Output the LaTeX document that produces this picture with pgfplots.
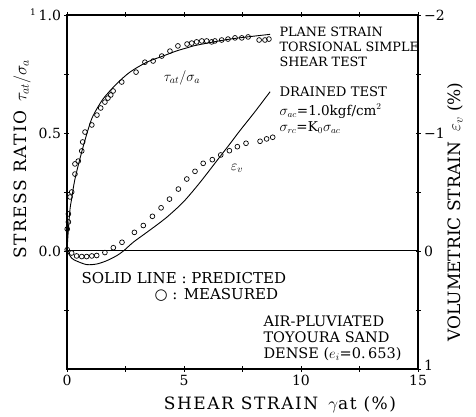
\documentclass[border=0pt]{standalone}
\usepackage{fontspec}
\setmainfont{DejaVu Serif}
\newfontfamily\symfont{DejaVu Sans}
\newfontfamily\lsfont[LetterSpace=9]{DejaVu Serif}
\usepackage{pgfplots}
\pgfplotsset{compat=1.18}
\begin{document}
\begin{tikzpicture}[x=1pt,y=1pt]
\path[use as bounding box] (-67,-48) rectangle (409,369);
\begin{axis}[at={(0,0)}, anchor=south west, width=351pt, height=354pt, scale only axis,
  xmin=0, xmax=15, ymin=-0.5, ymax=1.0,
  axis line style={line width=1.1pt},
  xtick={0,5,10,15}, xticklabels={0,5,10,15},
  minor xtick={2.5,7.5,12.5},
  ytick={0,0.5,1}, yticklabels={0.0,0.5,1.0},
  minor ytick={-0.25,0.25,0.75},
  xtick pos=both, xticklabel pos=lower, ytick pos=left,
  tick align=center, major tick length=5pt, minor tick length=5pt,
  tick style={black, line width=0.8pt},
  ticklabel style={font=\fontsize{14}{14}\selectfont},
  clip=false]
\addplot[black, line width=1pt] coordinates {(0,0) (15,0)};
\addplot[black, line width=0.9pt, smooth, tension=0.5] coordinates {
(0,0) (0.06,0.093) (0.13,0.178) (0.2,0.222) (0.34,0.305) (0.63,0.42) (0.91,0.517) (1.11,0.572) (1.54,0.644) (2.12,0.708) (2.69,0.758) (3.41,0.80) (4.10,0.826) (4.69,0.848) (5.17,0.862) (5.54,0.872) (6.97,0.898) (8.68,0.918)};
\addplot[only marks, mark=o, mark size=2.4pt, mark options={line width=0.7pt, black}] coordinates {
(0.01,0.093) (0.06,0.123) (0.06,0.157) (0.13,0.229) (0.20,0.25) (0.34,0.326) (0.34,0.369) (0.48,0.381) (0.63,0.424) (0.67,0.462) (0.77,0.504) (1.06,0.534) (1.28,0.576) (1.44,0.606) (1.62,0.631) (1.75,0.648) (1.87,0.661) (1.97,0.678) (2.34,0.716) (2.95,0.758) (3.33,0.80) (3.68,0.805) (4.05,0.826) (4.40,0.847) (4.74,0.869) (5.13,0.877) (5.33,0.881) (5.54,0.886) (5.76,0.89) (5.97,0.89) (6.18,0.886) (6.32,0.89) (6.61,0.894) (6.88,0.898) (7.18,0.903) (7.47,0.903) (7.74,0.907) (8.21,0.894) (8.46,0.894) (8.63,0.898)};
\end{axis}
\begin{axis}[at={(0,0)}, anchor=south west, width=351pt, height=354pt, scale only axis,
  xmin=0, xmax=15, ymin=-2, ymax=1, y dir=reverse,
  axis x line=none, axis y line*=right,
  axis line style={line width=1.1pt},
  ytick={-2,-1,0,1}, yticklabels={−2,−1,0,\raisebox{8pt}{1}},
  minor ytick={-1.5,-0.5,0.5},
  tick align=center, major tick length=5pt, minor tick length=5pt,
  tick style={black, line width=0.8pt},
  ticklabel style={font=\fontsize{14}{14}\selectfont},
  clip=false]
\addplot[black, line width=0.9pt, smooth, tension=0.5] coordinates {
(0,0) (0.2,0.06) (0.41,0.085) (0.84,0.115) (1.27,0.11) (1.70,0.082) (2.12,0.04) (2.41,0.0) (2.83,-0.074) (3.41,-0.158) (3.97,-0.24) (4.26,-0.285) (4.97,-0.415) (5.68,-0.58) (6.54,-0.80) (6.97,-0.91) (7.39,-1.02) (8.03,-1.18) (8.68,-1.35)};
\addplot[only marks, mark=o, mark size=2.4pt, mark options={line width=0.7pt, black}] coordinates {
(0.01,-0.011) (0.20,0.017) (0.41,0.042) (0.63,0.047) (0.84,0.047) (1.06,0.042) (1.27,0.038) (1.62,0.013) (1.98,-0.028) (2.35,-0.074) (2.88,-0.158) (3.26,-0.216) (3.65,-0.294) (4.02,-0.366) (4.38,-0.44) (4.76,-0.525) (5.12,-0.61) (5.47,-0.675) (5.82,-0.743) (6.21,-0.774) (6.57,-0.814) (6.94,-0.85) (7.28,-0.884) (7.65,-0.913) (8.25,-0.93) (8.53,-0.95) (8.79,-0.964)};
\end{axis}
% axis labels
\node[rotate=90, font=\lsfont\fontsize{17}{17}\selectfont] at (-45,210) {STRESS RATIO\hspace{0.5em}$\tau_{at}/\sigma_a$};
\node[rotate=90, font=\fontsize{17}{17}\selectfont] at (388,157) {VOLUMETRIC STRAIN\hspace{0.6em}$\varepsilon_v$ (\%)};
\node[font=\lsfont\fontsize{17}{17}\selectfont] at (213,-36) {SHEAR STRAIN\hspace{0.6em}$\gamma$at (\%)};
\node[font=\fontsize{9}{9}\selectfont] at (-34,357) {1};
% annotations
\node[anchor=west, align=left, font=\fontsize{12.8}{15}\selectfont] at (209,322) {PLANE STRAIN\\TORSIONAL SIMPLE\\SHEAR TEST};
\node[anchor=west, font=\fontsize{13.2}{15}\selectfont] at (209,277) {DRAINED TEST};
\node[anchor=west, font=\fontsize{13.5}{15}\selectfont] at (209,258) {$\sigma_{ac}$=1.0kgf/cm$^2$};
\node[anchor=west, font=\fontsize{13.5}{15}\selectfont] at (209,241) {$\sigma_{rc}$=K$_0\sigma_{ac}$};
\node[font=\fontsize{14}{14}\selectfont] at (115,291) {$\tau_{at}/\sigma_a$};
\node[font=\fontsize{14}{14}\selectfont] at (170,201) {$\varepsilon_v$};
\node[anchor=west, font=\fontsize{15}{16}\selectfont] at (11,91) {SOLID LINE : PREDICTED};
\node[anchor=west, font=\fontsize{15}{16}\selectfont] at (84,74) {{\symfont ○} : MEASURED};
\node[anchor=west, align=left, font=\fontsize{14.5}{16}\selectfont] at (193,31) {AIR-PLUVIATED\\TOYOURA SAND\\DENSE ($e_i$=0.\,653)};
\end{tikzpicture}
\end{document}
